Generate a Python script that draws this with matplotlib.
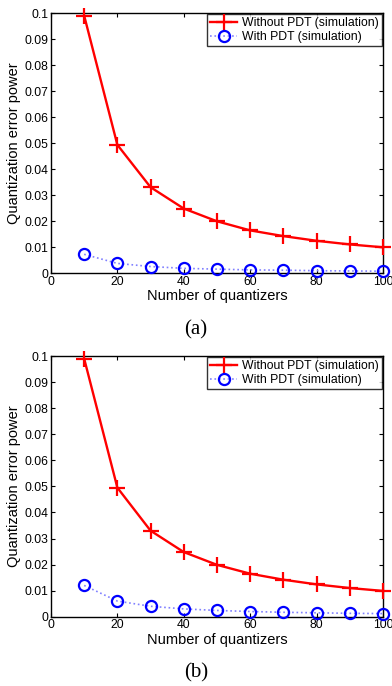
import matplotlib.pyplot as plt
import numpy as np

# data
n_quant = [10, 20, 30, 40, 50, 60, 70, 80, 90, 100]
without_pdt_a = [0.099, 0.0493, 0.033, 0.0248, 0.0199, 0.0164, 0.0142, 0.0124, 0.011, 0.0099]
with_pdt_a = [0.0072, 0.0037, 0.0025, 0.0018, 0.0015, 0.0012, 0.0011, 0.0009, 0.0008, 0.0007]
without_pdt_b = [0.099, 0.0495, 0.033, 0.0248, 0.0199, 0.0165, 0.0142, 0.0124, 0.011, 0.0099]
with_pdt_b = [0.012, 0.006, 0.004, 0.003, 0.0024, 0.002, 0.0017, 0.0015, 0.0013, 0.0012]
panel_labels = ['(a)', '(b)']

plt.rcParams['font.family'] = ['Liberation Sans', 'DejaVu Sans']


def panel(fig, rect, red, blue, tag, tag_y):
    ax = fig.add_axes(rect)
    ax.plot(n_quant, red, color='red', lw=1.7, marker='+', ms=11, mew=1.6,
            label='Without PDT (simulation)', clip_on=False, zorder=3)
    ax.plot(n_quant, blue, color='#8080ff', lw=1.2, ls=':', marker='o', ms=8,
            mfc='none', mec='blue', mew=1.6, label='With PDT (simulation)',
            clip_on=False, zorder=3)
    ax.set_xlim(0, 100)
    ax.set_ylim(0, 0.1)
    ax.set_xticks(np.arange(0, 101, 20))
    ax.set_yticks(np.arange(0, 0.101, 0.01))
    ax.set_yticklabels(['0', '0.01', '0.02', '0.03', '0.04', '0.05', '0.06',
                        '0.07', '0.08', '0.09', '0.1'])
    ax.tick_params(direction='in', top=True, right=True, labelsize=8.7, length=3, pad=2)
    for s in ax.spines.values():
        s.set_linewidth(1.0)
    ax.set_xlabel('Number of quantizers', fontsize=10.5, labelpad=1)
    ax.set_ylabel('Quantization error power', fontsize=10.5, labelpad=2)
    leg = ax.legend(loc='upper right', fontsize=8.8, frameon=True, fancybox=False,
                    edgecolor='black', borderpad=0.25, handlelength=2.2,
                    handletextpad=0.4, labelspacing=0.12, borderaxespad=0.1)
    leg.get_frame().set_linewidth(1.0)
    fig.text(0.5, tag_y, tag, ha='center', va='center',
             family='Liberation Serif', fontsize=15)
    return ax


fig = plt.figure(figsize=(3.92, 6.86), dpi=100)
panel(fig, [0.130, 0.602, 0.847, 0.379], without_pdt_a, with_pdt_a,
      panel_labels[0], 1 - 330 / 686)
panel(fig, [0.130, 0.101, 0.847, 0.380], without_pdt_b, with_pdt_b,
      panel_labels[1], 1 - 673 / 686)
fig.savefig('out.png', dpi=100)
